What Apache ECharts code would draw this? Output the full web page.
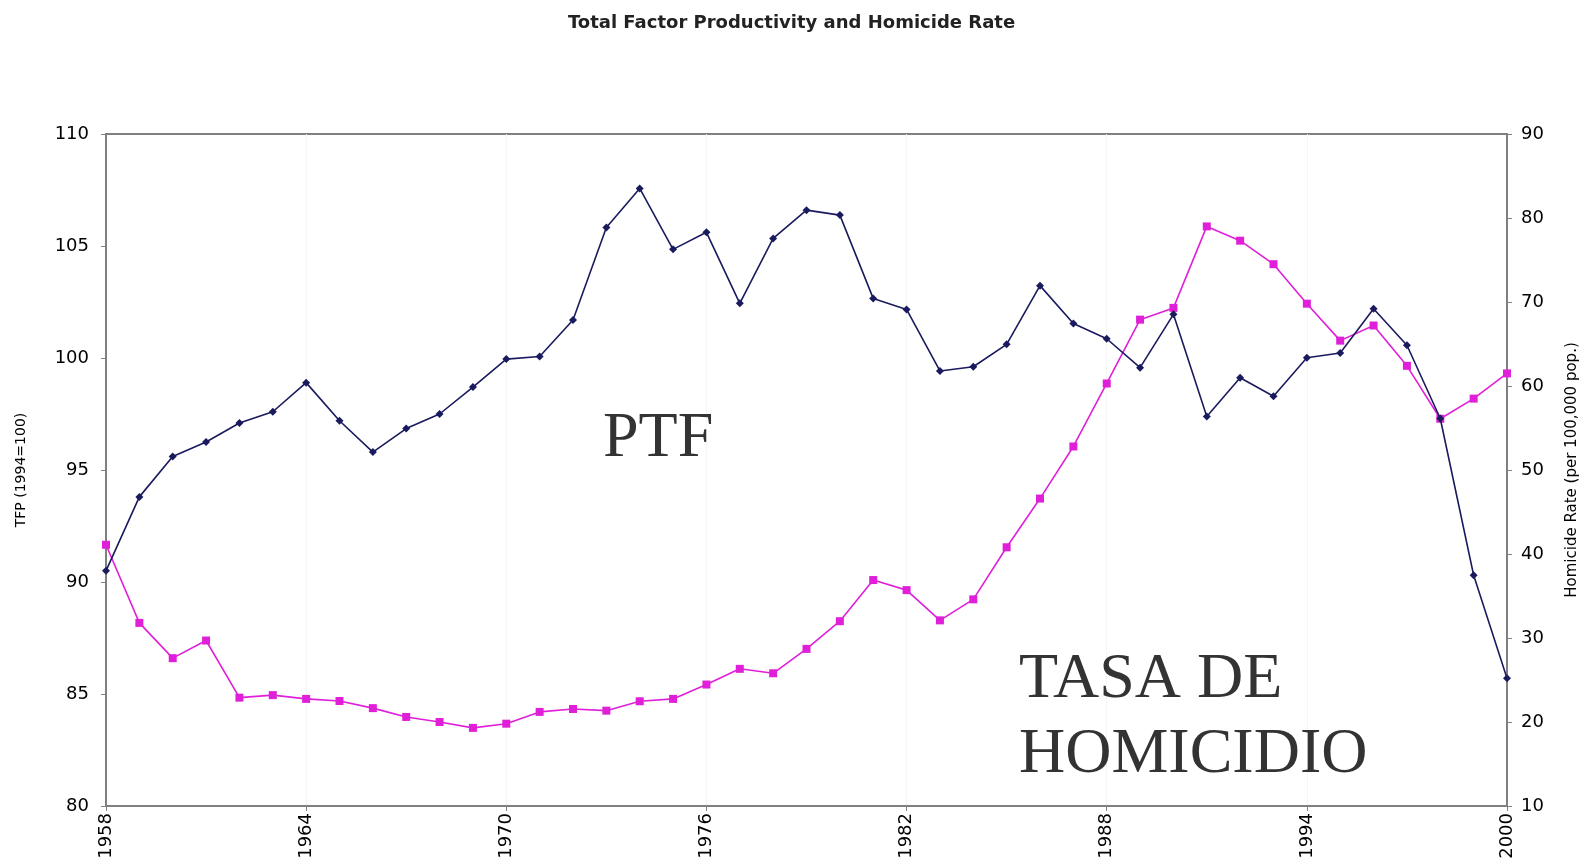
<!DOCTYPE html>
<html><head><meta charset="utf-8">
<script src="https://cdn.jsdelivr.net/npm/echarts@6/dist/echarts.min.js"></script>
<style>html,body{margin:0;padding:0;background:#fff;overflow:hidden}#c{width:1583px;height:868px}</style>
</head><body><div id="c"></div>
<script>
const years = [];
for (let y = 1958; y <= 2000; y++) years.push(String(y));

const tfp = [90.5, 93.8, 95.6, 96.25, 97.1, 97.6, 98.9, 97.2, 95.8, 96.85, 97.5, 98.7, 99.95, 100.07,
  101.7, 105.83, 107.57, 104.85, 105.61, 102.44, 105.34, 106.6, 106.38, 102.66, 102.17, 99.42, 99.61,
  100.61, 103.23, 101.54, 100.86, 99.57, 101.95, 97.39, 99.12, 98.29, 100.01, 100.22, 102.2, 100.57,
  97.3, 90.3, 85.7];

const homicide = [41.1, 31.8, 27.6, 29.7, 22.9, 23.2, 22.75, 22.5, 21.65, 20.6, 20.0, 19.3, 19.8, 21.2,
  21.55, 21.35, 22.47, 22.75, 24.46, 26.33, 25.8, 28.7, 32.0, 36.9, 35.7, 32.1, 34.6, 40.8, 46.6, 52.8,
  60.3, 67.9, 69.3, 79.0, 77.3, 74.5, 69.8, 65.4, 67.2, 62.4, 56.1, 58.5, 61.5];

const titleText = 'Total Factor Productivity and Homicide Rate';
const leftName = 'TFP (1994=100)';
const rightName = 'Homicide Rate (per 100,000 pop.)';

const chart = echarts.init(document.getElementById('c'));
const axisCol = '#808080';
const font = 'DejaVu Sans, Liberation Sans, Arial';
const lab = {color: '#000', fontFamily: font, fontSize: 18};
chart.setOption({
  animation: false,
  backgroundColor: '#fff',
  title: {text: titleText, left: 'center', top: 9,
    textStyle: {fontFamily: font, fontSize: 18, fontWeight: 'bold', color: '#222'}},
  grid: {left: 106, right: 76, top: 134, bottom: 62, show: true, borderColor: axisCol, borderWidth: 2,
    backgroundColor: 'transparent', containLabel: false, outerBoundsMode: 'none'},
  xAxis: {type: 'category', data: years, boundaryGap: false,
    axisLine: {lineStyle: {color: axisCol, width: 2}},
    axisTick: {interval: 5, length: 5, lineStyle: {color: axisCol}},
    axisLabel: Object.assign({interval: 5, rotate: 90, margin: 7}, lab),
    splitLine: {show: true, interval: 5, lineStyle: {color: '#ececec', type: 'dotted', width: 1}}},
  yAxis: [
    {type: 'value', min: 80, max: 110, interval: 5, name: leftName, nameLocation: 'middle', nameGap: 78,
      nameTextStyle: {fontFamily: font, fontSize: 14, color: '#000'},
      axisLine: {show: true, lineStyle: {color: axisCol, width: 2}},
      axisTick: {show: true, length: 5, lineStyle: {color: axisCol}},
      axisLabel: Object.assign({margin: 17}, lab),
      splitLine: {show: false}},
    {type: 'value', min: 10, max: 90, interval: 10, name: rightName, nameLocation: 'middle', nameGap: 58,
      nameRotate: 90,
      nameTextStyle: {fontFamily: font, fontSize: 15, color: '#000'},
      axisLine: {show: true, lineStyle: {color: axisCol, width: 2}},
      axisTick: {show: true, length: 5, lineStyle: {color: axisCol}},
      axisLabel: Object.assign({margin: 14}, lab),
      splitLine: {show: false}}
  ],
  series: [
    {name: 'TFP', type: 'line', yAxisIndex: 0, data: tfp, symbol: 'diamond', symbolSize: 8,
      lineStyle: {color: '#1a1a5e', width: 1.6}, itemStyle: {color: '#1a1a5e'}, z: 3},
    {name: 'Homicide', type: 'line', yAxisIndex: 1, data: homicide, symbol: 'rect', symbolSize: 8,
      lineStyle: {color: '#e020d8', width: 1.6}, itemStyle: {color: '#e020d8'}, z: 2}
  ],
  graphic: [
    {type: 'text', left: 603, top: 407, z: 100, style: {text: 'PTF', fontFamily: 'Liberation Serif, Times New Roman',
      fontSize: 64, fill: '#333'}},
    {type: 'text', left: 1019, top: 643, z: 100, style: {text: 'TASA DE\nHOMICIDIO', fontFamily: 'Liberation Serif, Times New Roman',
      fontSize: 64, lineHeight: 75, fill: '#333'}}
  ]
});
</script></body></html>
